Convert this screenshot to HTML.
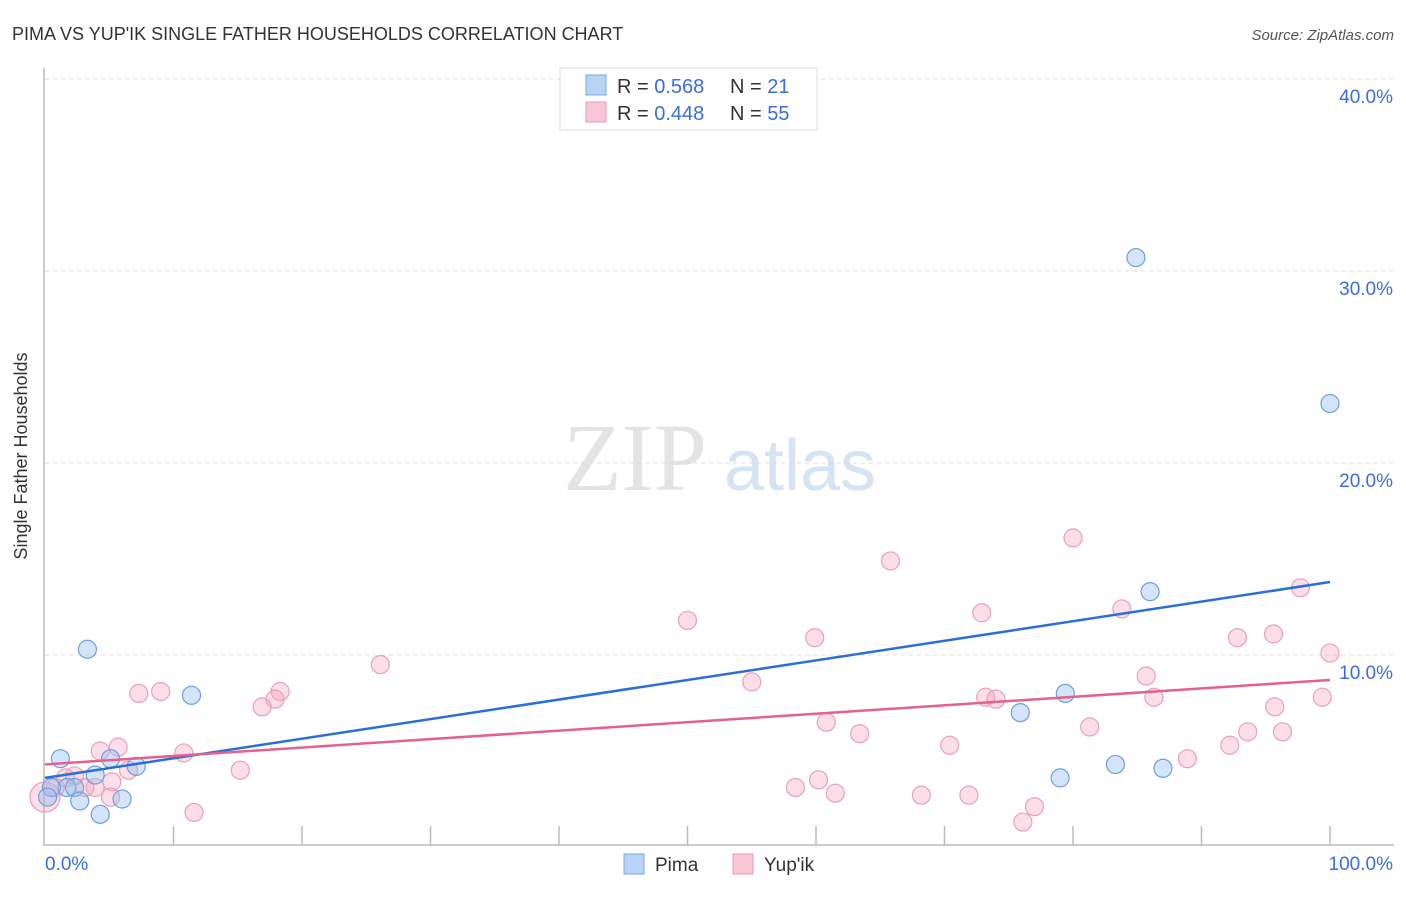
<!DOCTYPE html>
<html><head><meta charset="utf-8"><style>
body{margin:0;background:#fff;font-family:"Liberation Sans",sans-serif}
</style></head><body>
<svg width="1406" height="892" xmlns="http://www.w3.org/2000/svg" font-family="Liberation Sans, sans-serif">
<text x="12" y="40" font-size="18" fill="#333">PIMA VS YUP'IK SINGLE FATHER HOUSEHOLDS CORRELATION CHART</text>
<text x="1394" y="40" font-size="15" fill="#555" font-style="italic" text-anchor="end">Source: ZipAtlas.com</text>
<text x="27" y="456" font-size="18" fill="#333" text-anchor="middle" transform="rotate(-90 27 456)">Single Father Households</text>
<g><text x="635" y="490" font-size="96" font-family="Liberation Serif, serif" fill="#e4e4e4" text-anchor="middle">ZIP</text><text x="800" y="490" font-size="72" fill="#d6e3f3" text-anchor="middle">atlas</text></g>
<g id="grid"></g><g id="axes"></g><g id="marks"></g>
<g>
<rect x="560" y="68" width="257" height="62" fill="#fff" stroke="#ddd"/>
<rect x="586" y="75" width="20" height="20" fill="#b9d3f5" stroke="#7aa6e0"/>
<rect x="586" y="102" width="20" height="20" fill="#f9c6d5" stroke="#ec98b2"/>
<text x="617" y="93" font-size="20" fill="#333">R = <tspan fill="#3a6fd8">0.568</tspan></text>
<text x="730" y="93" font-size="20" fill="#333">N = <tspan fill="#3a6fd8"> 21</tspan></text>
<text x="617" y="120" font-size="20" fill="#333">R = <tspan fill="#3a6fd8">0.448</tspan></text>
<text x="730" y="120" font-size="20" fill="#333">N = <tspan fill="#3a6fd8">55</tspan></text>
</g>
<g>
<rect x="624" y="854" width="20" height="20" fill="#b9d3f5" stroke="#7aa6e0"/><text x="655" y="871" font-size="19" fill="#333">Pima</text>
<rect x="733" y="854" width="20" height="20" fill="#f9c6d5" stroke="#ec98b2"/><text x="764" y="871" font-size="19" fill="#333">Yup'ik</text>
</g>
</svg>
<script>
const pimaX=[84.9,100,3.3,11.4,86,75.9,79.4,79,83.3,87,1.2,5.1,7.1,3.9,1.7,2.3,2.7,6.0,4.3,0.5,0.2];
const pimaY=[30.7,23.1,10.3,7.9,13.3,7.0,8.0,3.6,4.3,4.1,4.6,4.6,4.2,3.75,3.1,3.1,2.4,2.5,1.7,3.1,2.6];
const yupX=[80,65.8,50,72.9,83.8,97.7,59.9,92.8,95.6,100,26.1,55,85.7,9,7.3,18.3,17.9,16.9,73.2,74,86.3,99.4,95.7,60.8,63.4,81.3,93.6,96.3,92.2,70.4,88.9,4.3,5.7,10.8,15.2,6.5,5.2,60.2,58.4,61.5,68.2,71.9,77,76.1,11.6,5.1,1.6,2.3,3.1,3.9,0.8,0];
const yupY=[16.1,14.9,11.8,12.2,12.4,13.5,10.9,10.9,11.1,10.1,9.5,8.6,8.9,8.1,8.0,8.1,7.7,7.3,7.8,7.7,7.8,7.8,7.3,6.5,5.9,6.25,6.0,6.0,5.3,5.3,4.6,5.0,5.2,4.9,4.0,4.0,3.4,3.5,3.1,2.8,2.7,2.7,2.1,1.3,1.8,2.6,3.6,3.7,3.1,3.1,3.1,2.6];
const pimaTrend=[3.6,13.8];
const yupTrend=[4.3,8.7];
const yTicks=[10,20,30,40];
const yTickLabels=["10.0%","20.0%","30.0%","40.0%"];
const xTicks=[0,10,20,30,40,50,60,70,80,90,100];
const NS="http://www.w3.org/2000/svg";
const sx=v=>45+v*12.85, sy=v=>847-v*19.2;
function mk(p,t,a){const e=document.createElementNS(NS,t);for(const k in a)e.setAttribute(k,a[k]);p.appendChild(e);return e;}
const grid=document.getElementById('grid'),axes=document.getElementById('axes'),marks=document.getElementById('marks');
yTicks.forEach((v,i)=>{const l=mk(grid,'line',{x1:45,x2:1394,y1:sy(v),y2:sy(v),stroke:'#ddd','stroke-dasharray':'4 4'});


const t=mk(axes,'text',{x:1393,y:sy(v)+24,'font-size':19,fill:'#3a6fd8','text-anchor':'end'});t.textContent=yTickLabels[i];

});
const ax=mk(axes,'path',{d:'M44 68V845H1394',fill:'none',stroke:'#bbb','stroke-width':1.5});


xTicks.forEach(v=>{if(v===0)return;const l=mk(axes,'line',{x1:sx(v),x2:sx(v),y1:826,y2:845,stroke:'#bbb','stroke-width':1.5});

});
[["0.0%",45,'start'],["100.0%",1393,'end']].forEach(a=>{const t=mk(axes,'text',{x:a[1],y:870,'font-size':19,fill:'#3a6fd8','text-anchor':a[2]});t.textContent=a[0];

});
yupX.forEach((x,i)=>{const c=mk(marks,'circle',{cx:sx(x),cy:sy(yupY[i]),r:(i===yupX.length-1)?15:9,fill:'rgba(244,160,186,0.35)',stroke:'#eaa0b8','stroke-width':1.2});

});
pimaX.forEach((x,i)=>{const c=mk(marks,'circle',{cx:sx(x),cy:sy(pimaY[i]),r:9,fill:'rgba(150,190,240,0.4)',stroke:'#6d9fe0','stroke-width':1.2});

});
const l1=mk(marks,'line',{x1:sx(0),x2:sx(100),y1:sy(pimaTrend[0]),y2:sy(pimaTrend[1]),stroke:'#2a6fd6','stroke-width':2.5});


const l2=mk(marks,'line',{x1:sx(0),x2:sx(100),y1:sy(yupTrend[0]),y2:sy(yupTrend[1]),stroke:'#e5608c','stroke-width':2.5});


</script>
</body></html>
